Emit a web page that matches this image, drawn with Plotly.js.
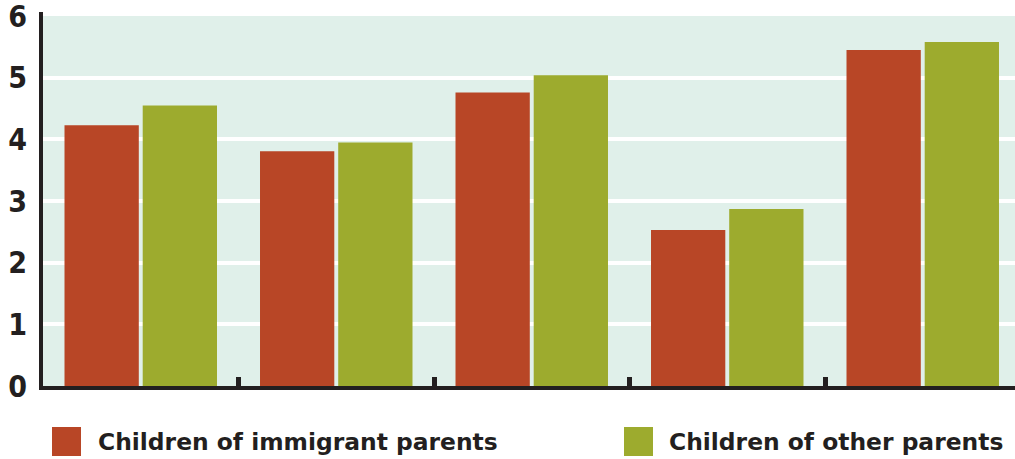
<!DOCTYPE html>
<html>
<head>
<meta charset="utf-8">
<script src="https://cdn.plot.ly/plotly-3.0.1.min.js"></script>
<style>html,body{margin:0;padding:0;background:#fff;}#chart{width:1015px;height:459px;}</style>
</head>
<body>
<div id="chart"></div>
<script>
// Data
const categories = ["Group 1", "Group 2", "Group 3", "Group 4", "Group 5"];
const immigrantValues = [4.23, 3.81, 4.76, 2.53, 5.45];
const otherValues = [4.55, 3.95, 5.04, 2.87, 5.58];
const seriesNames = ["Children of immigrant parents", "Children of other parents"];
const yTickValues = [0, 1, 2, 3, 4, 5, 6];
const yTickLabels = ["0", "1", "2", "3", "4", "5", "6"];

const RED = "#b84626", GREEN = "#9dab2e", INK = "#231f20", MINT = "#e0f0ea";

// Layout geometry (pixels)
const W = 1015, H = 459, L = 43, R = 0, T = 16, B = 73;
const pw = W - L - R, ph = H - T - B;
const px2x = p => (p - L) / pw;
const py2y = p => (H - B - p) / ph;

const traces = [
  {type: "bar", x: categories, y: immigrantValues, name: seriesNames[0],
   marker: {color: RED, line: {width: 0}}, showlegend: false, hoverinfo: "skip"},
  {type: "bar", x: categories, y: otherValues, name: seriesNames[1],
   marker: {color: GREEN, line: {width: 0}}, showlegend: false, hoverinfo: "skip"}
];

const legendFont = {family: "DejaVu Sans, sans-serif", size: 23.4, color: INK, weight: "bold"};

const layout = {
  width: W, height: H,
  margin: {l: L, r: R, t: T, b: B, pad: 0},
  paper_bgcolor: "#ffffff",
  plot_bgcolor: MINT,
  barmode: "group",
  bargap: 0.2,
  bargroupgap: 0.05,
  showlegend: false,
  xaxis: {
    type: "category",
    range: [-0.5, -0.5 + pw / 195.5],
    showticklabels: false,
    showgrid: false,
    zeroline: false,
    showline: true, linecolor: INK, linewidth: 4,
    ticks: "inside", tickson: "boundaries", ticklen: 9, tickwidth: 5, tickcolor: INK,
    fixedrange: true
  },
  yaxis: {
    range: [0, 6.003],
    tickvals: yTickValues, ticktext: yTickLabels,
    showgrid: true, gridcolor: "#ffffff", gridwidth: 4,
    zeroline: false,
    showline: true, linecolor: INK, linewidth: 4,
    ticks: "",
    ticklabelstandoff: 6,
    ticklabeloverflow: "allow",
    tickfont: {family: "DejaVu Sans Condensed, sans-serif", size: 30, color: INK, weight: "bold"},
    fixedrange: true
  },
  shapes: [
    {type: "line", xref: "paper", yref: "paper", x0: -2 / pw, x1: -2 / pw, y0: 1, y1: 1 + 4 / ph,
     line: {color: INK, width: 4}},
    {type: "rect", xref: "paper", yref: "paper", x0: px2x(52), x1: px2x(81), y0: py2y(456), y1: py2y(427),
     fillcolor: RED, line: {width: 0}},
    {type: "rect", xref: "paper", yref: "paper", x0: px2x(624), x1: px2x(653), y0: py2y(456), y1: py2y(427),
     fillcolor: GREEN, line: {width: 0}}
  ],
  annotations: [
    {xref: "paper", yref: "paper", x: px2x(96), y: py2y(442), xanchor: "left", yanchor: "middle",
     text: seriesNames[0], showarrow: false, font: legendFont},
    {xref: "paper", yref: "paper", x: px2x(667), y: py2y(442), xanchor: "left", yanchor: "middle",
     text: seriesNames[1], showarrow: false, font: legendFont}
  ]
};

Plotly.newPlot("chart", traces, layout, {displayModeBar: false, staticPlot: true});
</script>
</body>
</html>
